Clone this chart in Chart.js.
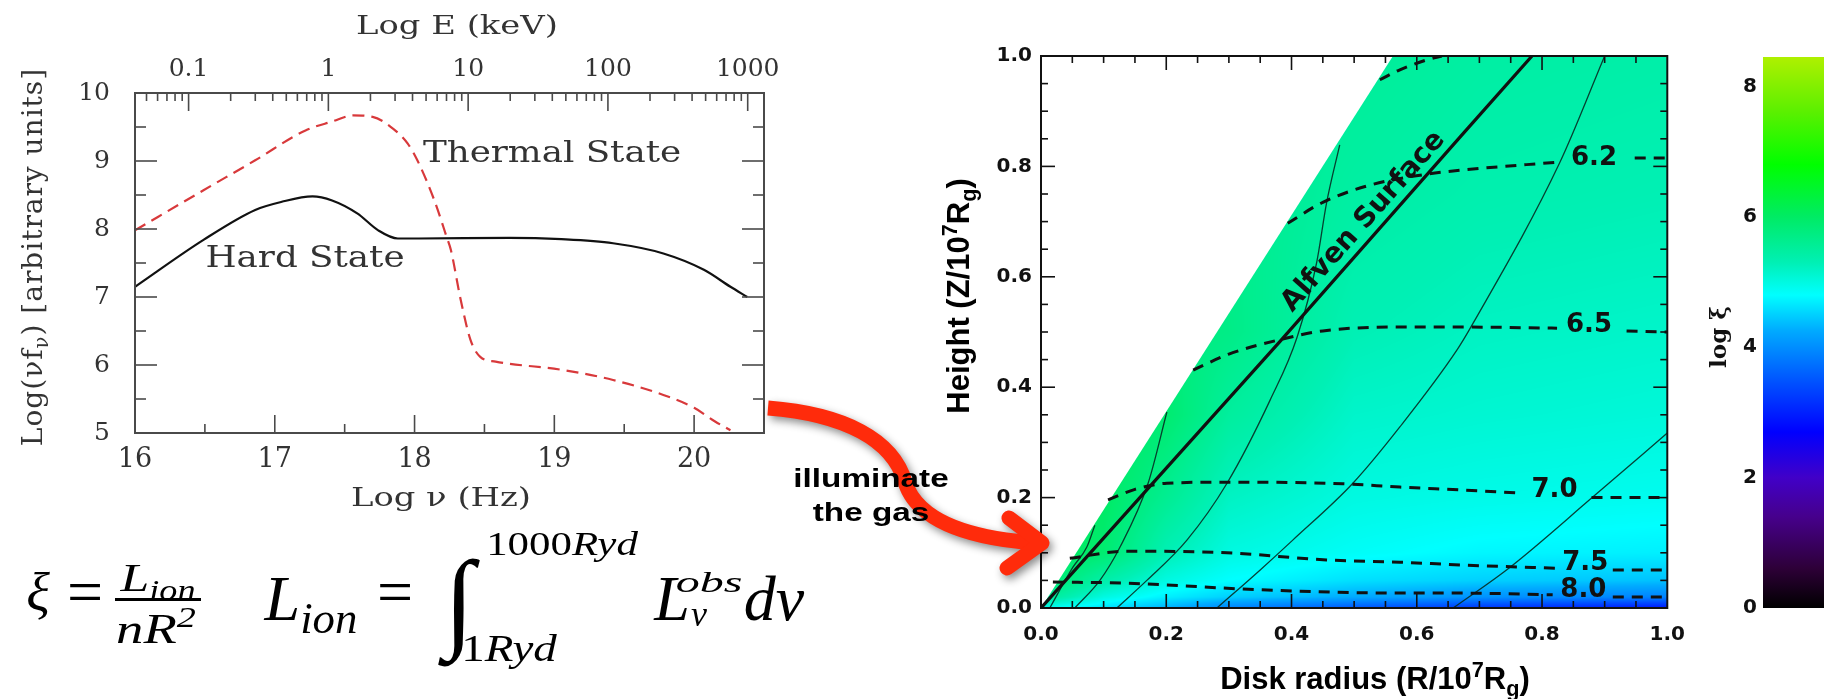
<!DOCTYPE html>
<html>
<head>
<meta charset="utf-8">
<title>Hard / thermal state spectra and ionization map</title>
<script src="https://cdn.jsdelivr.net/npm/chart.js@4.4.1/dist/chart.umd.min.js"></script>
<style>
  html, body { margin: 0; padding: 0; background: #fff; }
  body { position: relative; width: 1824px; height: 699px; overflow: hidden; }
  canvas { position: absolute; top: 0; }
  .lbl { position: absolute; white-space: nowrap; line-height: 1; color: #1a1a1a; }
  .lbl sub, .lbl sup { position: relative; vertical-align: baseline; line-height: 0; font-size: 0.7em; }
  .lbl sub { top: 0.3em; }
  .lbl sup { top: -0.55em; }
</style>
</head>
<body>
<canvas id="sed" width="800" height="520" style="left:0;width:800px;height:520px"></canvas>
<canvas id="xi" width="800" height="699" style="left:900px;width:800px;height:699px"></canvas>
<canvas id="cbar" width="200" height="699" style="left:1700px;width:200px;height:699px"></canvas>
<svg width="1824" height="699" style="position:absolute;left:0;top:0">
  <g fill="none" stroke="#ff2b0b" stroke-width="15" style="filter:drop-shadow(3px 4px 4px rgba(0,0,0,0.45))">
    <path d="M768 408 C845 414 893 440 905 482 C917 520 965 538 1036 543"/>
    <path d="M1009 518 L1042 543 L1007 568" stroke-linecap="round" stroke-linejoin="round"/>
  </g>
</svg>
<script>
const oneKeV = 17.3834; // log10 of the frequency (Hz) of a 1 keV photon

// left panel: spectral energy distributions
const hardLogNu  = [16.0, 16.49, 16.86, 17.05, 17.27, 17.41, 17.59, 17.74, 17.88, 18.03, 18.68, 19.05, 19.42, 19.78, 20.07, 20.26, 20.38];
const hardLogNuF = [7.15, 7.84, 8.28, 8.40, 8.48, 8.42, 8.23, 7.98, 7.86, 7.86, 7.87, 7.85, 7.79, 7.64, 7.40, 7.15, 7.00];
const thermalLogNu  = [16.0, 16.49, 16.86, 17.22, 17.41, 17.56, 17.70, 17.85, 17.95, 18.02, 18.14, 18.23, 18.26, 18.33, 18.40, 18.47, 18.58, 19.05, 19.42, 19.78, 20.0, 20.15, 20.26];
const thermalLogNuF = [7.98, 8.57, 9.01, 9.45, 9.58, 9.67, 9.65, 9.47, 9.26, 9.01, 8.43, 7.88, 7.69, 6.96, 6.37, 6.12, 6.05, 5.93, 5.78, 5.56, 5.37, 5.17, 5.04];

const nuTicks = [16, 17, 18, 19, 20];
const nuHalfTicks = [16.5, 17.5, 18.5, 19.5];
const fluxTicks = [5, 6, 7, 8, 9, 10];
const fluxHalfTicks = [5.5, 6.5, 7.5, 8.5, 9.5];
const keVTicks = [0.1, 1, 10, 100, 1000];

// right panel: disk wind map
const wedgeR = [0, 0.562];
const wedgeZ = [0, 1.0];
const alfven = [[0, 0], [0.18, 0.228], [0.381, 0.482], [0.669, 0.853], [0.784, 1.0]];

const contour60 = [[0.541, 0.957], [0.573, 0.975], [0.616, 0.993], [0.64, 1.0]];
const contour62 = [[0.394, 0.697], [0.45, 0.735], [0.525, 0.766], [0.616, 0.786], [0.669, 0.793], [0.828, 0.808]];
const contour62Tail = [[0.948, 0.815], [1.0, 0.815]];
const contour65 = [[0.243, 0.431], [0.30, 0.46], [0.381, 0.486], [0.45, 0.502], [0.573, 0.509], [0.669, 0.509], [0.824, 0.507]];
const contour65Tail = [[0.935, 0.502], [1.0, 0.5]];
const contour70 = [[0.107, 0.196], [0.15, 0.215], [0.201, 0.226], [0.297, 0.228], [0.482, 0.225], [0.573, 0.219], [0.669, 0.214], [0.768, 0.208]];
const contour70Tail = [[0.879, 0.2], [1.0, 0.2]];
const contour75 = [[0.046, 0.09], [0.137, 0.103], [0.297, 0.1], [0.456, 0.087], [0.573, 0.083], [0.669, 0.078], [0.823, 0.072]];
const contour75Tail = [[0.913, 0.069], [1.0, 0.069]];
const contour80 = [[0.019, 0.047], [0.137, 0.045], [0.35, 0.033], [0.573, 0.027], [0.669, 0.027], [0.817, 0.024]];
const contour80Tail = [[0.913, 0.02], [1.0, 0.02]];

const contourLabels = ['6.2', '6.5', '7.0', '7.5', '8.0'];
const contourLabelR = [0.883, 0.875, 0.82, 0.869, 0.866];
const contourLabelZ = [0.815, 0.513, 0.214, 0.081, 0.033];

const fieldLine1 = [[0.014, 0], [0.051, 0.074], [0.073, 0.11], [0.086, 0.15]];
const fieldLine2 = [[0.054, 0], [0.094, 0.05], [0.126, 0.11], [0.171, 0.226], [0.201, 0.355]];
const fieldLine3 = [[0.121, 0], [0.169, 0.05], [0.233, 0.123], [0.297, 0.226], [0.366, 0.377], [0.409, 0.491], [0.44, 0.625], [0.456, 0.734], [0.477, 0.839]];
const fieldLine4 = [[0.281, 0], [0.35, 0.069], [0.402, 0.123], [0.498, 0.226], [0.573, 0.328], [0.664, 0.467], [0.69, 0.516], [0.828, 0.806], [0.9, 1.0]];
const fieldLine5 = [[0.658, 0], [0.749, 0.074], [0.881, 0.201], [1.0, 0.317]];

const radiusTicks = [0, 0.2, 0.4, 0.6, 0.8, 1.0];
const heightTicks = [0, 0.2, 0.4, 0.6, 0.8, 1.0];

// log xi, on a coarse (r, z) grid
const fieldR = [0, 0.1, 0.2, 0.3, 0.5, 0.7, 1.0];
const fieldZ = [0, 0.02, 0.05, 0.1, 0.2, 0.35, 0.5, 0.75, 1.0];
const fieldLogXi = [
  [4.9, 4.6, 4.3, 3.9, 3.5, 3.2, 2.9],
  [5.6, 5.0, 4.7, 4.5, 4.25, 4.05, 3.9],
  [6.0, 5.4, 5.0, 4.8, 4.6, 4.5, 4.4],
  [6.1, 5.9, 5.3, 5.0, 4.85, 4.75, 4.7],
  [6.1, 6.0, 5.6, 5.2, 5.0, 4.95, 4.9],
  [6.0, 6.0, 5.9, 5.5, 5.15, 5.1, 5.05],
  [5.9, 5.9, 5.8, 5.7, 5.3, 5.2, 5.15],
  [5.8, 5.8, 5.7, 5.65, 5.45, 5.35, 5.3],
  [5.7, 5.7, 5.6, 5.6, 5.55, 5.45, 5.4]
];

// colour bar
const cbarTicks = [0, 2, 4, 6, 8];
const cbarStops = [0, 0.6, 1.4, 2.0, 2.7, 3.45, 4.25, 4.8, 5.3, 6.0, 6.8, 7.6, 8.45];
const cbarColors = ['#000000', '#2d0037', '#46008c', '#4100c8', '#0000ff', '#0050ff', '#00aaff', '#00ffff',
                    '#00f0b4', '#00eb64', '#00ff00', '#5af000', '#aff000'];

const serif = "'DejaVu Serif', serif";
const sans = "'DejaVu Sans', sans-serif";

function pairs(xs, ys) { return xs.map((x, i) => ({ x: x, y: ys[i] })); }
function pts(list) { return list.map(p => ({ x: p[0], y: p[1] })); }
function hexRgb(h) { return [1, 3, 5].map(i => parseInt(h.substr(i, 2), 16)); }
const cbarRgb = cbarColors.map(hexRgb);

function bracket(arr, v) {
  let i = 0;
  while (i < arr.length - 2 && v > arr[i + 1]) i++;
  const t = Math.min(1, Math.max(0, (v - arr[i]) / (arr[i + 1] - arr[i])));
  return [i, t];
}
function fieldAt(r, z) {
  const [i, tr] = bracket(fieldR, r);
  const [j, tz] = bracket(fieldZ, z);
  const r0 = fieldLogXi[j], r1 = fieldLogXi[j + 1];
  const a0 = r0[i] + (r0[i + 1] - r0[i]) * tr;
  const a1 = r1[i] + (r1[i + 1] - r1[i]) * tr;
  return a0 + (a1 - a0) * tz;
}
function colourFor(v) {
  const [i, t] = bracket(cbarStops, v);
  const c0 = cbarRgb[i], c1 = cbarRgb[i + 1];
  return [0, 1, 2].map(k => Math.round(c0[k] + (c1[k] - c0[k]) * t));
}

function tick(ctx, x0, y0, x1, y1) {
  ctx.beginPath(); ctx.moveTo(x0, y0); ctx.lineTo(x1, y1); ctx.stroke();
}

const sedFrame = {
  id: 'sedFrame',
  afterDatasetsDraw(chart) {
    const { ctx, chartArea: a, scales } = chart;
    const x = scales.x, e = scales.e, y = scales.y;
    ctx.save();
    ctx.strokeStyle = '#4a4a4a';
    ctx.lineWidth = 1.6;
    nuTicks.forEach(v => { const p = x.getPixelForValue(v); tick(ctx, p, a.bottom, p, a.bottom - 18); });
    nuHalfTicks.forEach(v => { const p = x.getPixelForValue(v); tick(ctx, p, a.bottom, p, a.bottom - 9); });
    fluxTicks.forEach(v => {
      const p = y.getPixelForValue(v);
      tick(ctx, a.left, p, a.left + 22, p); tick(ctx, a.right, p, a.right - 22, p);
    });
    fluxHalfTicks.forEach(v => {
      const p = y.getPixelForValue(v);
      tick(ctx, a.left, p, a.left + 11, p); tick(ctx, a.right, p, a.right - 11, p);
    });
    for (let d = -2; d <= 3; d++) {
      for (let k = 1; k <= 9; k++) {
        const v = d + Math.log10(k);
        if (v < e.min || v > e.max) continue;
        const p = e.getPixelForValue(v);
        tick(ctx, p, a.top, p, a.top + (k === 1 ? 18 : 8));
      }
    }
    ctx.lineWidth = 2;
    ctx.strokeRect(a.left, a.top, a.right - a.left, a.bottom - a.top);
    ctx.restore();
  }
};

new Chart(document.getElementById('sed'), {
  type: 'scatter',
  data: {
    datasets: [
      { label: 'Hard State', data: pairs(hardLogNu, hardLogNuF), showLine: true, borderColor: '#111',
        borderWidth: 2.2, pointRadius: 0, cubicInterpolationMode: 'monotone' },
      { label: 'Thermal State', data: pairs(thermalLogNu, thermalLogNuF), showLine: true, borderColor: '#d8393b',
        borderWidth: 2.2, borderDash: [12, 7], pointRadius: 0, cubicInterpolationMode: 'monotone' }
    ]
  },
  options: {
    responsive: false, animation: false, events: [],
    layout: { padding: { left: 0, right: 36, top: 0, bottom: 0 } },
    plugins: { legend: { display: false }, tooltip: { enabled: false } },
    scales: {
      x: {
        type: 'linear', position: 'bottom', min: 16, max: 20.5,
        afterBuildTicks: s => { s.ticks = nuTicks.map(v => ({ value: v })); },
        afterFit: s => { s.height = 87; },
        grid: { display: false, drawTicks: false }, border: { display: false },
        ticks: { padding: 11, color: '#333', autoSkip: false, maxRotation: 0,
                 font: { family: serif, size: 27 }, callback: v => String(v) }
      },
      e: {
        type: 'linear', position: 'top', min: 16 - oneKeV, max: 20.5 - oneKeV,
        afterBuildTicks: s => { s.ticks = keVTicks.map(v => ({ value: Math.log10(v) })); },
        afterFit: s => { s.height = 93; },
        grid: { display: false, drawTicks: false }, border: { display: false },
        ticks: { padding: 9, color: '#333', autoSkip: false, maxRotation: 0,
                 font: { family: serif, size: 25 }, callback: (v, i) => String(keVTicks[i]) }
      },
      y: {
        type: 'linear', position: 'left', min: 5, max: 10,
        afterBuildTicks: s => { s.ticks = fluxTicks.map(v => ({ value: v })); },
        afterFit: s => { s.width = 135; },
        grid: { display: false, drawTicks: false }, border: { display: false },
        ticks: { padding: 25, color: '#333', autoSkip: false, font: { family: serif, size: 25 } }
      }
    }
  },
  plugins: [sedFrame]
});

const fieldPlugin = {
  id: 'field',
  beforeDatasetsDraw(chart) {
    const { ctx, chartArea: a, scales: { x, y } } = chart;
    const w = Math.round(a.right - a.left), h = Math.round(a.bottom - a.top);
    const off = document.createElement('canvas');
    off.width = w; off.height = h;
    const octx = off.getContext('2d');
    const img = octx.createImageData(w, h);
    for (let j = 0; j < h; j++) {
      const z = y.getValueForPixel(a.top + j + 0.5);
      for (let i = 0; i < w; i++) {
        const r = x.getValueForPixel(a.left + i + 0.5);
        const c = colourFor(fieldAt(r, z));
        const k = (j * w + i) * 4;
        img.data[k] = c[0]; img.data[k + 1] = c[1]; img.data[k + 2] = c[2]; img.data[k + 3] = 255;
      }
    }
    octx.putImageData(img, 0, 0);
    ctx.save();
    ctx.beginPath();
    ctx.moveTo(x.getPixelForValue(wedgeR[0]), y.getPixelForValue(wedgeZ[0]));
    for (let i = 1; i < wedgeR.length; i++) ctx.lineTo(x.getPixelForValue(wedgeR[i]), y.getPixelForValue(wedgeZ[i]));
    ctx.lineTo(a.right, a.top);
    ctx.lineTo(a.right, a.bottom);
    ctx.closePath();
    ctx.clip();
    ctx.drawImage(off, a.left, a.top);
    ctx.restore();
  }
};

const xiFrame = {
  id: 'xiFrame',
  afterDatasetsDraw(chart) {
    const { ctx, chartArea: a, scales: { x, y } } = chart;
    ctx.save();
    ctx.strokeStyle = '#111';
    ctx.lineWidth = 1.6;
    for (let n = 1; n < 20; n++) {
      const v = n / 20;
      const len = n % 4 === 0 ? 14 : 7;
      const px = x.getPixelForValue(v), py = y.getPixelForValue(v);
      tick(ctx, px, a.bottom, px, a.bottom - len);
      tick(ctx, px, a.top, px, a.top + len);
      tick(ctx, a.left, py, a.left + len, py);
      tick(ctx, a.right, py, a.right - len, py);
    }
    ctx.lineWidth = 2;
    ctx.strokeRect(a.left, a.top, a.right - a.left, a.bottom - a.top);

    ctx.fillStyle = '#111';
    ctx.textAlign = 'center';
    ctx.textBaseline = 'middle';
    ctx.font = 'bold 26px ' + sans;
    contourLabels.forEach((t, i) => {
      ctx.fillText(t, x.getPixelForValue(contourLabelR[i]), y.getPixelForValue(contourLabelZ[i]));
    });

    const last = alfven[alfven.length - 1];
    const ang = Math.atan2(y.getPixelForValue(last[1]) - y.getPixelForValue(0),
                           x.getPixelForValue(last[0]) - x.getPixelForValue(0));
    ctx.translate(x.getPixelForValue(0.515), y.getPixelForValue(0.700));
    ctx.rotate(ang);
    ctx.font = 'bold 28px ' + sans;
    ctx.fillText('Alfven Surface', 0, 0);
    ctx.restore();
  }
};

const thin = { showLine: true, borderColor: 'rgba(5,45,35,0.9)', borderWidth: 1.3, pointRadius: 0, cubicInterpolationMode: 'monotone' };
const dashed = { showLine: true, borderColor: '#111', borderWidth: 3, borderDash: [11, 8], pointRadius: 0, cubicInterpolationMode: 'monotone' };

new Chart(document.getElementById('xi'), {
  type: 'scatter',
  data: {
    datasets: [
      { label: 'Alfven Surface', data: pts(alfven), showLine: true, borderColor: '#111', borderWidth: 3.2, pointRadius: 0 },
      Object.assign({ data: pts(contour60) }, dashed),
      Object.assign({ data: pts(contour62) }, dashed),
      Object.assign({ data: pts(contour62Tail) }, dashed),
      Object.assign({ data: pts(contour65) }, dashed),
      Object.assign({ data: pts(contour65Tail) }, dashed),
      Object.assign({ data: pts(contour70) }, dashed),
      Object.assign({ data: pts(contour70Tail) }, dashed),
      Object.assign({ data: pts(contour75) }, dashed),
      Object.assign({ data: pts(contour75Tail) }, dashed),
      Object.assign({ data: pts(contour80) }, dashed),
      Object.assign({ data: pts(contour80Tail) }, dashed),
      Object.assign({ data: pts(fieldLine1) }, thin),
      Object.assign({ data: pts(fieldLine2) }, thin),
      Object.assign({ data: pts(fieldLine3) }, thin),
      Object.assign({ data: pts(fieldLine4) }, thin),
      Object.assign({ data: pts(fieldLine5) }, thin)
    ]
  },
  options: {
    responsive: false, animation: false, events: [],
    layout: { padding: { left: 0, right: 32, top: 56, bottom: 0 } },
    plugins: { legend: { display: false }, tooltip: { enabled: false } },
    scales: {
      x: {
        type: 'linear', min: 0, max: 1,
        afterBuildTicks: s => { s.ticks = radiusTicks.map(v => ({ value: v })); },
        afterFit: s => { s.height = 91; },
        grid: { display: false, drawTicks: false }, border: { display: false },
        ticks: { padding: 15, color: '#111', autoSkip: false, maxRotation: 0,
                 font: { family: sans, size: 20, weight: 'bold' }, callback: v => v.toFixed(1) }
      },
      y: {
        type: 'linear', min: 0, max: 1,
        afterBuildTicks: s => { s.ticks = heightTicks.map(v => ({ value: v })); },
        afterFit: s => { s.width = 141; },
        grid: { display: false, drawTicks: false }, border: { display: false },
        ticks: { padding: 9, color: '#111', autoSkip: false,
                 font: { family: sans, size: 20, weight: 'bold' }, callback: v => v.toFixed(1) }
      }
    }
  },
  plugins: [fieldPlugin, xiFrame]
});

const cbarPlugin = {
  id: 'cbarFill',
  beforeDatasetsDraw(chart) {
    const { ctx, chartArea: a, scales: { y } } = chart;
    const y0 = y.getPixelForValue(y.min), y1 = y.getPixelForValue(y.max);
    const g = ctx.createLinearGradient(0, y0, 0, y1);
    cbarStops.forEach((v, i) => g.addColorStop((v - y.min) / (y.max - y.min), cbarColors[i]));
    ctx.save();
    ctx.fillStyle = g;
    ctx.fillRect(a.left, a.top, a.right - a.left, a.bottom - a.top);
    ctx.restore();
  }
};

new Chart(document.getElementById('cbar'), {
  type: 'scatter',
  data: { datasets: [] },
  options: {
    responsive: false, animation: false, events: [],
    layout: { padding: { left: 0, right: 0, top: 57, bottom: 91 } },
    plugins: { legend: { display: false }, tooltip: { enabled: false } },
    scales: {
      x: { type: 'linear', display: false, min: 0, max: 1 },
      y: {
        type: 'linear', min: 0, max: 8.45,
        afterBuildTicks: s => { s.ticks = cbarTicks.map(v => ({ value: v })); },
        afterFit: s => { s.width = 63; },
        grid: { display: false, drawTicks: false }, border: { display: false },
        ticks: { padding: 6, color: '#111', autoSkip: false, font: { family: sans, size: 20, weight: 'bold' } }
      }
    }
  },
  plugins: [cbarPlugin]
});

// text placed on the page (centre x, centre y)
function label(html, x, y, o) {
  const el = document.createElement('div');
  el.className = 'lbl';
  el.innerHTML = html;
  el.style.left = x + 'px';
  el.style.top = y + 'px';
  el.style.fontFamily = o.font;
  el.style.fontSize = o.size + 'px';
  el.style.fontWeight = o.bold ? 'bold' : 'normal';
  el.style.fontStyle = o.italic ? 'italic' : 'normal';
  if (o.color) el.style.color = o.color;
  if (o.ls) el.style.letterSpacing = o.ls + 'px';
  el.style.transform = 'translate(-50%,-50%) rotate(' + (o.rot || 0) + 'deg) scaleX(' + (o.sx || 1) + ')';
  document.body.appendChild(el);
  return el;
}

const tex = "'Liberation Serif', serif";
const helv = "'Liberation Sans', Arial, sans-serif";

// left panel titles and curve names
label('Log E (keV)', 457, 25, { font: serif, size: 26, sx: 1.3, color: '#333' });
label('Log &nu; (Hz)', 441, 497, { font: serif, size: 26, sx: 1.3, color: '#333' });
label('Log(&nu;f<sub>&nu;</sub>) [arbitrary units]', 33, 257, { font: serif, size: 28, rot: -90, ls: 1, color: '#333' });
label('Thermal State', 552, 152, { font: serif, size: 29, sx: 1.23, color: '#333' });
label('Hard State', 305, 257, { font: serif, size: 29, sx: 1.23, color: '#333' });

// right panel titles
label('Height (Z/10<sup>7</sup>R<sub>g</sub>)', 958, 296, { font: helv, size: 31, bold: true, rot: -90, color: '#000' });
label('Disk radius (R/10<sup>7</sup>R<sub>g</sub>)', 1375, 678, { font: helv, size: 31, bold: true, color: '#000' });
label('log &xi;', 1717, 337, { font: serif, size: 23, bold: true, rot: -90, color: '#111' });

// arrow caption
label('illuminate', 871, 478, { font: helv, size: 26, bold: true, sx: 1.28, color: '#000' });
label('the gas', 871, 512, { font: helv, size: 26, bold: true, sx: 1.28, color: '#000' });

// ionization parameter definition
label('&xi;', 38, 592, { font: tex, size: 55, italic: true, color: '#000' });
label('=', 85, 592, { font: tex, size: 64, color: '#000' });
label('L<sub>ion</sub>', 158, 577, { font: tex, size: 41, italic: true, sx: 1.26, color: '#000' });
label('nR<sup>2</sup>', 156, 629, { font: tex, size: 42, italic: true, sx: 1.3, color: '#000' });
const bar = document.createElement('div');
bar.style.cssText = 'position:absolute;left:115px;top:598px;width:86px;height:2.5px;background:#000';
document.body.appendChild(bar);
label('L<sub>ion</sub>', 311, 599, { font: tex, size: 64, italic: true, color: '#000' });
label('=', 395, 592, { font: tex, size: 64, color: '#000' });
label('&int;', 459, 600, { font: tex, size: 110, italic: true, color: '#000' });
label('1000<i>Ryd</i>', 562, 544, { font: tex, size: 33, sx: 1.3, color: '#000' });
label('1<i>Ryd</i>', 509, 648, { font: tex, size: 37, sx: 1.27, color: '#000' });
label('L', 672, 599, { font: tex, size: 64, italic: true, color: '#000' });
label('obs', 709, 582, { font: tex, size: 30, italic: true, sx: 1.6, color: '#000' });
label('&nu;', 699, 614, { font: tex, size: 36, italic: true, color: '#000' });
label('d&nu;', 774, 599, { font: tex, size: 64, italic: true, color: '#000' });
</script>
</body>
</html>
